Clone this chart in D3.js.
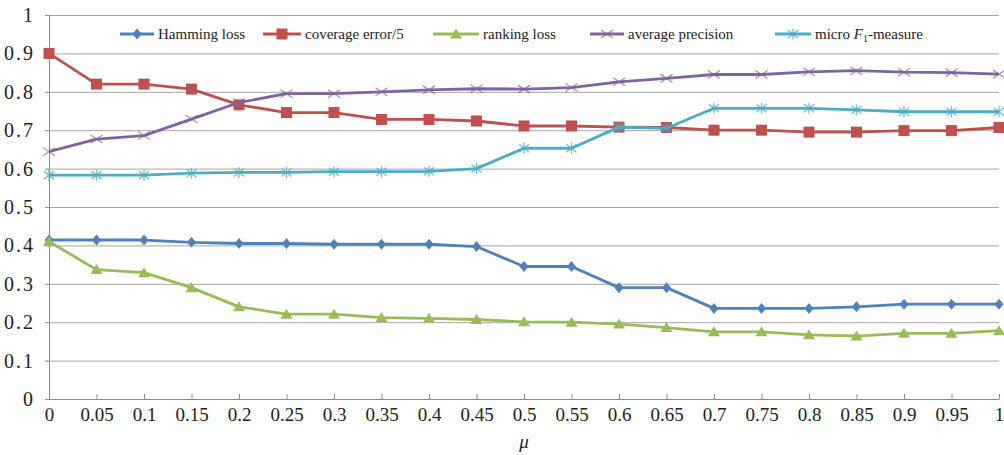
<!DOCTYPE html>
<html>
<head>
<meta charset="utf-8">
<script src="https://cdn.jsdelivr.net/npm/d3@7"></script>
<style>
  html, body { margin: 0; padding: 0; background: #fff; }
  svg { display: block; }
  text { font-family: "Liberation Serif", "Times New Roman", serif; fill: #222; }
</style>
</head>
<body>
<svg id="chart" width="1004" height="455"></svg>
<script>
// μ values along the horizontal axis
const muLabels = ["0","0.05","0.1","0.15","0.2","0.25","0.3","0.35","0.4","0.45","0.5",
                  "0.55","0.6","0.65","0.7","0.75","0.8","0.85","0.9","0.95","1"];
const yTicks = [0, 0.1, 0.2, 0.3, 0.4, 0.5, 0.6, 0.7, 0.8, 0.9, 1];

const hammingLoss = [0.414,0.414,0.414,0.408,0.405,0.405,0.403,0.403,0.403,0.397,0.345,
                     0.345,0.290,0.290,0.236,0.236,0.236,0.240,0.247,0.247,0.247];
const coverageError5 = [0.900,0.820,0.820,0.807,0.766,0.746,0.746,0.728,0.728,0.724,0.711,
                        0.711,0.708,0.707,0.700,0.700,0.695,0.695,0.699,0.699,0.707];
const rankingLoss = [0.410,0.337,0.329,0.290,0.240,0.221,0.221,0.212,0.210,0.207,0.201,
                     0.200,0.195,0.186,0.175,0.175,0.167,0.164,0.171,0.171,0.178];
const averagePrecision = [0.644,0.677,0.686,0.729,0.772,0.795,0.795,0.800,0.805,0.808,0.807,
                          0.811,0.826,0.835,0.845,0.845,0.852,0.855,0.851,0.850,0.846];
const microF1 = [0.583,0.583,0.583,0.588,0.590,0.590,0.592,0.592,0.593,0.600,0.653,
                 0.653,0.708,0.705,0.757,0.757,0.757,0.753,0.748,0.748,0.748];

const series = [
  { name: "Hamming loss",      values: hammingLoss,      color: "#4F81BD", marker: "diamond" },
  { name: "coverage error/5",  values: coverageError5,   color: "#C0504D", marker: "square" },
  { name: "ranking loss",      values: rankingLoss,      color: "#9BBB59", marker: "triangle" },
  { name: "average precision", values: averagePrecision, color: "#8064A2", marker: "x" },
  { name: "micro F1-measure",  values: microF1,          color: "#4BACC6", marker: "star" }
];

const svg = d3.select("#chart");
const plotLeft = 49, plotRight = 999, plotTop = 15, plotBottom = 399;

const x = d3.scalePoint().domain(muLabels).range([plotLeft, plotRight]).padding(0);
const y = d3.scaleLinear().domain([0, 1]).range([plotBottom, plotTop]);

// horizontal gridlines
svg.append("g")
  .attr("transform", `translate(${plotLeft},0)`)
  .call(d3.axisLeft(y).tickValues(yTicks).tickSize(-(plotRight - plotLeft)).tickFormat(""))
  .call(g => g.select(".domain").remove())
  .call(g => g.selectAll("line").attr("stroke", "#a6a6a6").attr("stroke-width", 1));

// y axis
svg.append("g")
  .attr("transform", `translate(${plotLeft},0)`)
  .call(d3.axisLeft(y).tickValues(yTicks).tickSize(4).tickPadding(10)
        .tickFormat(d => d3.format("~g")(d)))
  .call(g => g.select(".domain").attr("stroke", "#8c8c8c"))
  .call(g => g.selectAll("line").attr("stroke", "#8c8c8c"))
  .call(g => g.selectAll("text").attr("font-size", 20).attr("letter-spacing", 2)
        .attr("font-family", "Liberation Serif").attr("fill", "#222"));

// x axis, tick marks point up into the plot
svg.append("g")
  .attr("transform", `translate(0,${plotBottom})`)
  .call(d3.axisBottom(x).tickSizeInner(-5).tickSizeOuter(0).tickPadding(9))
  .call(g => g.select(".domain").attr("stroke", "#8c8c8c"))
  .call(g => g.selectAll("line").attr("stroke", "#8c8c8c"))
  .call(g => g.selectAll("text").attr("font-size", 19)
        .attr("font-family", "Liberation Serif").attr("fill", "#222"));

// axis title
svg.append("text")
  .attr("x", (plotLeft + plotRight) / 2)
  .attr("y", 448)
  .attr("text-anchor", "middle")
  .attr("font-size", 19)
  .attr("font-style", "italic")
  .text("μ");

// marker drawing
function drawMarker(g, type, color) {
  if (type === "diamond") {
    g.append("path").attr("d", "M0,-5.5L4.5,0L0,5.5L-4.5,0Z").attr("fill", color);
  } else if (type === "square") {
    g.append("rect").attr("x", -5.5).attr("y", -5.5).attr("width", 11).attr("height", 11)
      .attr("fill", color);
  } else if (type === "triangle") {
    g.append("path").attr("d", "M0,-5.5L6,4.5L-6,4.5Z").attr("fill", color);
  } else if (type === "x") {
    g.append("path").attr("d", "M-6,-4L6,4M-6,4L6,-4")
      .attr("stroke", color).attr("stroke-width", 1.3).attr("fill", "none").attr("opacity", 0.7);
  } else if (type === "star") {
    g.append("path").attr("d", "M-5,-4L5,4M-5,4L5,-4M0,-5.5L0,5.5")
      .attr("stroke", color).attr("stroke-width", 1.3).attr("fill", "none").attr("opacity", 0.8);
  }
}

const line = d3.line().x((d, i) => x(muLabels[i])).y(d => y(d));

series.forEach(s => {
  const g = svg.append("g");
  g.append("path")
    .datum(s.values)
    .attr("d", line)
    .attr("fill", "none")
    .attr("stroke", s.color)
    .attr("stroke-width", 2.8)
    .attr("stroke-linejoin", "round");
  g.selectAll("g.m")
    .data(s.values)
    .join("g")
    .attr("class", "m")
    .attr("transform", (d, i) => `translate(${x(muLabels[i])},${y(d)})`)
    .each(function () { drawMarker(d3.select(this), s.marker, s.color); });
});

// legend
const legendItems = [
  { lx: 120, tx: 158 },
  { lx: 263, tx: 305 },
  { lx: 433, tx: 483 },
  { lx: 590, tx: 628 },
  { lx: 775, tx: 815 }
];
const legendY = 34;
series.forEach((s, i) => {
  const it = legendItems[i];
  const g = svg.append("g");
  g.append("line")
    .attr("x1", it.lx).attr("x2", it.tx - 4)
    .attr("y1", legendY).attr("y2", legendY)
    .attr("stroke", s.color).attr("stroke-width", 2.8);
  const m = g.append("g").attr("transform", `translate(${(it.lx + it.tx - 4) / 2},${legendY})`);
  drawMarker(m, s.marker, s.color);
  const t = g.append("text")
    .attr("x", it.tx).attr("y", legendY + 5)
    .attr("font-size", 15);
  if (s.marker === "star") {
    t.append("tspan").text("micro ");
    t.append("tspan").attr("font-style", "italic").text("F");
    t.append("tspan").attr("font-size", 10).attr("dy", 3).text("1");
    t.append("tspan").attr("dy", -3).text("-measure");
  } else {
    t.text(s.name);
  }
});
</script>
</body>
</html>
